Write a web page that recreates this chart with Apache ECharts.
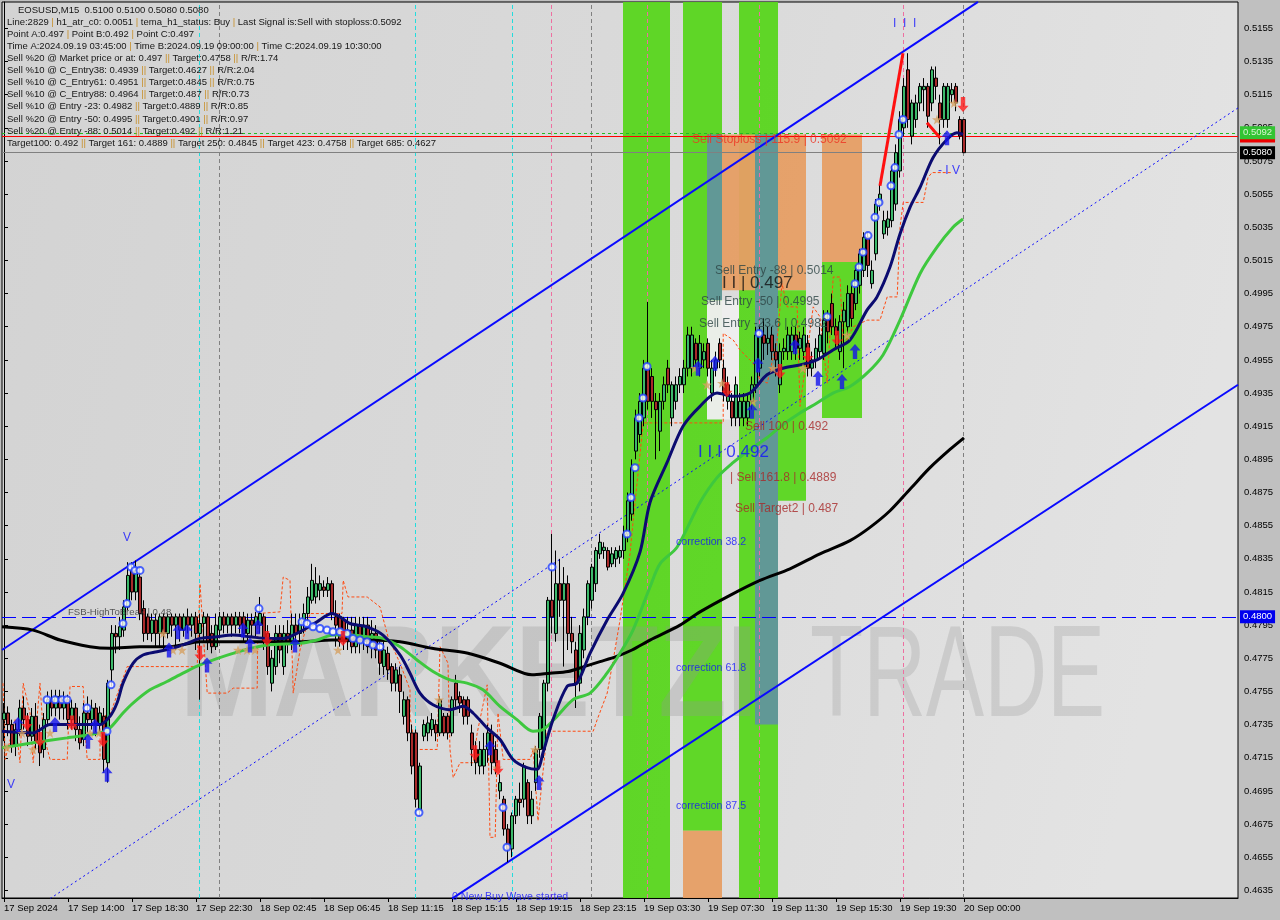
<!DOCTYPE html>
<html><head><meta charset="utf-8">
<script src="https://cdn.jsdelivr.net/npm/echarts@6/dist/echarts.min.js"></script>
<style>html,body{margin:0;padding:0;background:#c0c0c0}#c{width:1280px;height:920px}</style>
</head><body><div id="c"></div>
<script>
// ---------------- DATA ----------------
const timeLabels = ['17 Sep 2024','17 Sep 14:00','17 Sep 18:30','17 Sep 22:30','18 Sep 02:45','18 Sep 06:45','18 Sep 11:15','18 Sep 15:15','18 Sep 19:15','18 Sep 23:15','19 Sep 03:30','19 Sep 07:30','19 Sep 11:30','19 Sep 15:30','19 Sep 19:30','20 Sep 00:00'];
const yTickLabels = ['0.4635','0.4655','0.4675','0.4695','0.4715','0.4735','0.4755','0.4775','0.4795','0.4815','0.4835','0.4855','0.4875','0.4895','0.4915','0.4935','0.4955','0.4975','0.4995','0.5015','0.5035','0.5055','0.5075','0.5095','0.5115','0.5135','0.5155'];

// candles: [open, close, low, high] in 1e-4 price units
const candles17 = [
[4738,4742,4725,4748],[4742,4735,4728,4746],[4735,4722,4718,4738],[4722,4732,4716,4736],[4732,4745,4728,4750],
[4745,4738,4732,4752],[4738,4728,4722,4742],[4728,4740,4725,4745],[4740,4725,4720,4748],[4725,4718,4710,4735],
[4720,4738,4715,4742],[4738,4750,4735,4755],[4750,4745,4740,4756],[4745,4752,4740,4756],[4752,4745,4738,4756],
[4745,4750,4738,4755],[4750,4738,4732,4753],[4738,4745,4732,4750],[4745,4732,4725,4748],[4732,4724,4720,4740],
[4726,4742,4722,4748],[4742,4738,4730,4752],[4738,4745,4732,4750],[4745,4735,4728,4748],[4735,4742,4730,4746],
[4740,4714,4706,4745],[4712,4760,4700,4762],[4768,4790,4758,4795],[4790,4788,4778,4795],[4788,4794,4780,4800],
[4792,4806,4788,4810],[4806,4825,4804,4833],[4828,4815,4810,4833],[4815,4828,4810,4834],[4824,4802,4798,4830],
[4805,4790,4785,4810],[4800,4790,4786,4802],[4790,4798,4785,4802],[4798,4790,4782,4802],[4790,4800,4782,4802],
[4800,4790,4780,4802],[4790,4800,4787,4802],[4800,4795,4788,4802],[4795,4800,4780,4802],[4800,4792,4785,4802],
[4792,4800,4788,4802],[4800,4795,4790,4805],[4795,4800,4788,4802],[4800,4790,4780,4803],[4790,4796,4750,4802],
[4796,4800,4785,4803],[4800,4785,4780,4802],[4790,4782,4778,4795],[4782,4795,4780,4802],[4792,4800,4788,4803],
[4800,4795,4790,4803],[4795,4800,4790,4802],[4800,4795,4788,4802],[4795,4800,4790,4803],[4800,4795,4790,4803]
];
const candles18a = [
[4800,4790,4785,4803],[4790,4798,4785,4802],[4798,4795,4788,4802],[4795,4800,4788,4803],[4795,4802,4790,4812],
[4800,4785,4780,4802],[4790,4770,4765,4795],[4760,4775,4755,4780],[4770,4790,4765,4795],[4790,4780,4772,4795],
[4770,4790,4765,4795],[4790,4785,4778,4798],[4785,4795,4780,4802],[4795,4790,4785,4802],[4790,4798,4782,4802],
[4798,4802,4790,4808],[4802,4812,4795,4818],[4810,4822,4808,4832],[4812,4820,4808,4830],[4816,4820,4810,4825],
[4818,4816,4812,4822],[4816,4820,4812,4824],[4820,4802,4798,4822],[4800,4795,4782,4810],[4800,4785,4782,4802],
[4798,4785,4780,4800],[4785,4792,4780,4800],[4792,4782,4778,4800],[4782,4795,4778,4800],[4795,4785,4778,4800],
[4785,4795,4780,4800],[4795,4782,4778,4800],[4782,4790,4775,4798],[4790,4780,4775,4795],[4780,4772,4765,4785],
[4770,4780,4765,4785],[4778,4768,4762,4782],[4770,4760,4755,4772],[4760,4768,4755,4772],[4765,4755,4742,4770],
[4740,4750,4735,4755],[4750,4730,4725,4752],[4730,4710,4705,4735],[4730,4690,4685,4732],[4683,4710,4680,4712],
[4728,4735,4725,4738],[4730,4736,4725,4740],[4732,4738,4728,4742],[4735,4730,4725,4738],[4730,4750,4728,4752],
[4740,4730,4728,4742],[4740,4730,4726,4742],[4730,4750,4728,4752],[4760,4750,4745,4765],[4752,4748,4742,4755],
[4750,4740,4735,4752],[4750,4740,4735,4752],[4730,4720,4710,4735],[4720,4712,4705,4725],[4710,4720,4705,4725]
];
const candles18b = [
[4710,4720,4705,4730],[4720,4730,4712,4735],[4730,4712,4705,4735],[4720,4712,4705,4725],[4695,4700,4690,4705],
[4690,4672,4668,4692],[4672,4660,4652,4675],[4660,4680,4655,4682],[4680,4690,4675,4692],[4690,4688,4680,4700],
[4690,4710,4685,4712],[4700,4680,4675,4702],[4680,4690,4675,4695],[4700,4720,4695,4722],[4720,4740,4715,4742],
[4720,4760,4715,4762],[4760,4810,4755,4812],[4810,4800,4790,4850],[4790,4820,4785,4840],[4820,4810,4800,4835],
[4810,4820,4770,4830],[4820,4790,4780,4825],[4790,4785,4778,4800],[4780,4760,4745,4785],[4760,4790,4755,4795],
[4780,4800,4775,4805],[4800,4820,4795,4822],[4810,4830,4805,4832],[4820,4840,4815,4842],[4838,4845,4835,4850],
[4840,4842,4835,4845],[4840,4830,4828,4842],[4832,4838,4830,4842],[4835,4840,4830,4842],[4836,4840,4832,4843],
[4840,4850,4835,4855],[4850,4870,4845,4875],[4862,4890,4858,4895],[4900,4920,4895,4925],[4910,4930,4905,4935],
[4920,4950,4915,4955],[4950,4930,4925,4990],[4945,4930,4920,4950],[4930,4925,4895,4935],[4912,4930,4900,4935],
[4930,4940,4925,4945],[4950,4940,4935,4955],[4920,4940,4915,4942],[4930,4940,4925,4945],[4940,4945,4935,4950],
[4940,4950,4935,4955],[4950,4970,4945,4975],[4950,4970,4945,4975],[4965,4955,4950,4968],[4950,4965,4945,4970],
[4955,4960,4950,4965],[4965,4950,4945,4968],[4935,4950,4930,4955],[4950,4955,4945,4960],[4965,4955,4950,4968]
];
const candles19 = [
[4950,4935,4930,4955],[4930,4940,4925,4945],[4930,4920,4915,4935],[4920,4940,4915,4945],[4920,4930,4915,4935],
[4920,4930,4915,4935],[4920,4930,4915,4935],[4930,4940,4925,4945],[4940,4970,4935,4975],[4950,4970,4945,4975],
[4970,4965,4955,4980],[4965,4968,4958,4975],[4970,4960,4955,4975],[4960,4955,4945,4965],[4940,4960,4935,4965],
[4960,4962,4955,4968],[4960,4970,4955,4975],[4960,4970,4955,4975],[4970,4962,4955,4975],[4962,4968,4955,4972],
[4960,4970,4955,4975],[4965,4950,4945,4970],[4950,4955,4945,4960],[4955,4962,4950,4968],[4960,4970,4955,4975],
[4959,4979,4955,4985],[4979,4972,4965,4985],[4989,4975,4970,4995],[4975,4970,4962,4980],[4960,4978,4955,4982],
[4978,4985,4950,4990],[4975,4995,4970,5000],[4995,4980,4975,5000],[4989,5009,4985,5012],[5000,5019,4995,5022],
[5009,5029,5005,5032],[5029,5012,5005,5032],[5001,5009,4998,5015],[5019,5049,5015,5052],[5049,5055,5045,5062],
[5031,5039,5028,5045],[5035,5040,5030,5045],[5039,5069,5035,5072],[5049,5080,5045,5085],[5069,5100,5065,5105],
[5095,5120,5090,5125],[5130,5100,5095,5140],[5090,5110,5085,5112],[5100,5110,5095,5115],[5110,5120,5105,5122],
[5118,5120,5105,5125],[5120,5102,5095,5122],[5110,5130,5105,5132],[5125,5120,5112,5132],[5110,5100,5085,5115],
[5100,5120,5095,5122],[5100,5120,5095,5122],[5115,5118,5110,5122],[5120,5110,5105,5122],[5100,5090,5088,5102],
[5100,5080,5080,5100]
];

// indicator lines: [bar index, price*1e4]
const blackMA = [[-0.5,4794],[7.25,4792],[14,4786],[21.5,4782],[26.5,4781],[34,4782],[41.5,4782],[49,4785],[61.5,4785],[74,4785],[82,4786],[91,4786],[99,4785],[107,4781],[116,4778],[124,4772],[132,4765],[136.5,4766],[141,4767],[145,4770],[149,4773],[153,4776],[157,4780],[161.5,4786],[169,4795],[174,4803],[181.5,4813],[189,4822],[196.5,4829],[204,4838],[211.5,4846],[216.5,4854],[221.5,4864],[226.5,4877],[231.5,4890],[236.5,4901],[240,4908]];
const navyLine = [[-0.5,4731],[7.25,4730],[11.5,4735],[15.75,4735],[19.75,4735],[24,4735],[26.5,4740],[28.25,4748],[29.75,4760],[32.25,4772],[34.75,4777],[38.25,4779],[42.25,4781],[45.75,4784],[49,4787],[53.25,4788],[57.25,4789],[61.5,4788],[65.75,4787],[69.75,4787],[74,4791],[78.25,4797],[82,4802],[84,4800],[86.5,4796],[90.75,4794],[94.75,4789],[99,4777],[101.5,4766],[104,4754],[107.25,4747],[111.5,4744],[114.75,4746],[117.25,4742],[120.75,4733],[124,4726],[127.25,4714],[130.75,4709],[133.25,4708],[134.75,4718],[137.25,4738],[140.75,4758],[143.25,4760],[146.5,4778],[150.75,4798],[154.75,4814],[159,4839],[161.5,4869],[165.75,4893],[169.75,4915],[174,4927],[178.25,4935],[182.25,4933],[186.5,4935],[190.75,4946],[194.75,4950],[199,4952],[203.25,4955],[207.25,4961],[211.5,4967],[215.75,4985],[218.25,4993],[221.5,5011],[224,5031],[226.5,5047],[229,5059],[232.25,5077],[235.75,5088],[238.25,5092],[239.75,5091]];
const greenMA = [[-0.5,4721],[7.25,4724],[15.75,4727],[24,4730],[26.5,4733],[29.75,4742],[32.25,4748],[36.5,4756],[40.75,4761],[44.75,4766],[49,4771],[57.25,4778],[65.75,4783],[74,4784],[78.25,4786],[82.25,4789],[86.5,4789],[90.75,4788],[94.75,4787],[99,4782],[103.25,4774],[107.25,4767],[111.5,4762],[115.75,4760],[119.75,4756],[124,4746],[128.25,4738],[132.25,4731],[134.75,4732],[138.25,4740],[142.25,4750],[146.5,4754],[150.75,4766],[154,4778],[157.25,4792],[161.5,4818],[164,4832],[168.25,4842],[174,4869],[178.25,4884],[182.25,4893],[186.5,4901],[190.75,4908],[194.75,4916],[199,4923],[203.25,4929],[207.25,4935],[211.5,4939],[215.75,4947],[219.75,4958],[224,4979],[229,5007],[233.25,5023],[237.25,5035],[239.75,5040]];
const orangeStop = [[-0.25,4760],[0.3,4714],[2.8,4738],[4,4712],[4.8,4760],[6.5,4742],[7.3,4712],[9,4760],[9.8,4730],[11.5,4714],[15.8,4714],[16.5,4758],[19.8,4758],[20.3,4730],[20.8,4714],[24,4714],[24,4740],[26.5,4741],[30.8,4770],[48.3,4770],[49,4820],[50.8,4754],[55.8,4754],[57.3,4757],[63.3,4757],[63.5,4802],[69,4803],[69.8,4824],[71.5,4822],[72.3,4754],[74,4780],[76.5,4802],[84.5,4802],[84.8,4822],[86,4812],[90.8,4812],[94,4806],[96,4788],[99,4772],[101.5,4756],[101.5,4740],[102.8,4720],[108.3,4720],[109,4782],[111,4772],[111.5,4720],[112.3,4703],[114,4712],[117.3,4712],[118.3,4730],[120.8,4759],[121.5,4667],[122.8,4667],[123.5,4742],[124.8,4714],[131.5,4714],[132.3,4720],[133.5,4677],[135.8,4731],[147.3,4731],[148.3,4738],[150.8,4754],[152.3,4774],[154,4798],[156.5,4838],[157.3,4858],[159.8,4917],[179.8,4917],[179.8,4971],[182.3,4967],[184,4961],[187.3,4953],[189,4943],[190.8,4941],[193.3,4967],[194.5,5001],[195.8,4987],[198.3,4987],[199,4927],[202.3,4987],[204,4981],[205.8,4941],[207.3,5005],[209,5005],[209.8,4963],[212.3,4975],[215.8,4979],[219,4979],[220.8,4993],[223.3,4993],[224,5035],[224.8,5050],[229.8,5050],[231,5065],[232,5068],[237,5068]];
const channelUpper = [[-0.5,4780],[243.5,5171]];
const channelLower = [[112,4630],[308.5,4940]];
const channelMid = [[11.5,4630],[308.5,5107]];
const zigzagUp = [[219,5060],[224.75,5140]];
const zigzagDown = [[230.75,5098],[234,5089]];

// horizontal levels (price) and vertical markers (bar index)
const stopLossRed = 0.5090, stopLossGreen = 0.5092, lastPrice = 0.5080, breakLevel = 0.4800;
const vCyan = [48.75, 102.75, 127];
const vGrey = [53.75, 146.75, 239.75];
const vPink = [136.75, 160.75, 188.75, 224.75];

// zones: [fromBar, toBar, lowPrice, highPrice, kind]
const zones = [
 [154.75,166.5,4630,5171,'g'],
 [169.75,179.5,4671,5171,'g'],
 [169.75,179.5,4630,4671,'o'],
 [183.75,193.5,4630,5171,'g'],
 [179.5,183.75,4997,5091,'o'],
 [183.75,187.75,4997,5091,'o'],
 [175.75,179.5,4991,5091,'s'],
 [175.75,183.75,4919,4991,'w'],
 [187.75,193.5,4735,5091,'s'],
 [193.5,200.5,4997,5091,'o'],
 [193.5,200.5,4870,4997,'g'],
 [204.5,214.5,5014,5091,'o'],
 [204.5,214.5,4920,5014,'g']
];

// signal markers: [bar index, price*1e4]
const buyArrows = [[3.5,4735],[12.75,4735],[21,4725],[22.75,4734],[25.75,4705],[41.25,4780],[43.5,4791],[45.75,4791],[50.75,4771],[59.75,4792],[61.5,4783],[63.5,4794],[72.75,4783],[121.5,4721],[133.75,4700],[173.5,4950],[177.75,4953],[187,4924],[188.5,4952],[197.75,4963],[203.5,4944],[209.5,4942],[212.75,4960],[235.75,5089]];
const sellArrows = [[5.75,4736],[9,4726],[17,4736],[24.75,4726],[49,4778],[65.75,4787],[84.75,4787],[117.75,4718],[123.5,4709],[180.75,4937],[194,4948],[201,4958],[208.25,4968],[239.75,5109]];
const stars = [[0.75,4721],[4.5,4730],[7.25,4720],[11.5,4730],[21.5,4730],[23.75,4730],[39.75,4790],[42.25,4780],[44.5,4780],[58.5,4780],[60.75,4780],[62.75,4780],[83.5,4780],[108.75,4750],[123.25,4709],[132.75,4720],[172.75,4950],[175.75,4940],[179.5,4941],[187.25,4930],[192.25,4950],[199.75,4950],[210.75,4970],[233.25,5100],[237.5,5110]];
const circles = [[10.75,4750],[12.75,4750],[14.5,4750],[15.75,4750],[20.75,4745],[25.75,4731],[26.75,4759],[29.75,4796],[30.75,4808],[31.75,4830],[32.75,4828],[34,4828],[63.75,4805],[74.5,4797],[75.75,4796],[77.25,4794],[79,4793],[80.75,4792],[82.25,4791],[84,4791],[85.75,4790],[87.25,4787],[89,4786],[90.75,4785],[92.25,4783],[94,4782],[103.75,4682],[124.75,4685],[125.75,4661],[137,4830],[155.75,4850],[156.75,4872],[157.75,4890],[158.75,4920],[159.75,4932],[160.75,4951],[188.75,4971],[205.75,4981],[212.75,5001],[213.75,5011],[214.75,5020],[216,5030],[217.75,5041],[218.75,5050],[221.75,5060],[222.75,5071],[223.75,5091],[224.75,5100]];

// chart annotations: [bar index, price*1e4, text, kind]
const annotations = [
 [16,4803,'FSB-HighToBreak | 0.48','fsb'],
 [172,5088,'Sell Stoploss | 115.9 | 0.5092','stop'],
 [177.75,5009,'Sell Entry -88 | 0.5014','entry'],
 [179.5,5001,'I I | 0.497','big'],
 [174.25,4990,'Sell Entry -50 | 0.4995','entry'],
 [173.75,4977,'Sell Entry -23.6 | 0.4982','entry'],
 [185.25,4915,'Sell 100 | 0.492','target'],
 [173.5,4899,'I I I 0.492','bigblue'],
 [181.5,4884,'| Sell 161.8 | 0.4889','target'],
 [182.75,4865,'Sell Target2 | 0.487','target'],
 [168,4845,'correction 38.2','corr'],
 [168,4769,'correction 61.8','corr'],
 [168,4686,'correction 87.5','corr'],
 [112,4631,'0 New Buy Wave started','corr'],
 [29.75,4848,'V','mark'],
 [0.75,4699,'V','mark'],
 [222.25,5158,'I  I  I','mark'],
 [233.5,5069,'- I V','mark']
];

// header text block
const infoLines = [
 'EOSUSD,M15  0.5100 0.5100 0.5080 0.5080',
 'Line:2829 | h1_atr_c0: 0.0051 | tema_h1_status: Buy | Last Signal is:Sell with stoploss:0.5092',
 'Point A:0.497 | Point B:0.492 | Point C:0.497',
 'Time A:2024.09.19 03:45:00 | Time B:2024.09.19 09:00:00 | Time C:2024.09.19 10:30:00',
 'Sell %20 @ Market price or at: 0.497 || Target:0.4758 || R/R:1.74',
 'Sell %10 @ C_Entry38: 0.4939 || Target:0.4627 || R/R:2.04',
 'Sell %10 @ C_Entry61: 0.4951 || Target:0.4845 || R/R:0.75',
 'Sell %10 @ C_Entry88: 0.4964 || Target:0.487 || R/R:0.73',
 'Sell %10 @ Entry -23: 0.4982 || Target:0.4889 || R/R:0.85',
 'Sell %20 @ Entry -50: 0.4995 || Target:0.4901 || R/R:0.97',
 'Sell %20 @ Entry -88: 0.5014 || Target:0.492 || R/R:1.21',
 'Target100: 0.492 || Target 161: 0.4889 || Target 250: 0.4845 || Target 423: 0.4758 || Target 685: 0.4627'
];

// ---------------- BUILD ----------------
const FONT = '"Liberation Sans", Arial, sans-serif';
const P = v => v / 1e4;
const pts = arr => arr.map(p => [p[0], P(p[1])]);
const allCandles = [].concat(candles17, candles18a, candles18b, candles19);
const candleData = allCandles.map((c, i) => [i, P(c[0]), P(c[1]), P(c[2]), P(c[3])]);
const yTicks = yTickLabels.map(Number);
const xTicks = timeLabels.map((t, k) => k * 16);
const Y_MIN = 0.46304, Y_MAX = 0.51709;

const zoneColors = { g: 'rgba(88,214,30,0.95)', o: 'rgba(230,158,100,0.95)', s: 'rgba(98,146,160,0.92)', w: 'rgba(238,238,238,0.97)' };
const annStyles = {
  fsb: { color: '#333', fontSize: 9.6 },
  stop: { color: '#ee3322', fontSize: 12 },
  entry: { color: '#2d4545', fontSize: 12 },
  big: { color: '#111', fontSize: 17 },
  target: { color: '#a82828', fontSize: 12 },
  bigblue: { color: '#1010ff', fontSize: 17 },
  corr: { color: '#1010ff', fontSize: 10.6 },
  mark: { color: '#1010ff', fontSize: 12 }
};

const upArrow = 'path://M5,0 L10,6 L7,6 L7,14 L3,14 L3,6 L0,6 Z';
const starPath = 'path://M5,0 L6.2,3.6 L10,3.6 L7,5.9 L8.1,9.5 L5,7.3 L1.9,9.5 L3,5.9 L0,3.6 L3.8,3.6 Z';

const chart = echarts.init(document.getElementById('c'), null, { renderer: 'canvas', width: 1280, height: 920 });

const infoGraphics = infoLines.map((t, k) => ({
  type: 'text',
  x: k === 0 ? 18 : 7,
  y: 10 + k * 12.1,
  z: 50,
  style: {
    text: t.replace(/\|/g, '{s||}'),
    font: '9.5px ' + FONT,
    fill: '#151515',
    verticalAlign: 'middle',
    rich: { s: { fill: '#c8902a', font: '9.5px ' + FONT } }
  }
}));

const levelLabel = (txt, bg, fg) => ({ show: true, position: 'end', formatter: txt, backgroundColor: bg, color: fg, padding: [2, 3, 1, 3], fontSize: 9.5, distance: 2 });

const option = {
  animation: false,
  backgroundColor: '#c0c0c0',
  textStyle: { fontFamily: FONT },
  grid: {
    left: 2, right: 42, top: 2, bottom: 22, show: true,
    borderColor: '#000', borderWidth: 1,
    backgroundColor: { type: 'linear', x: 0, y: 0, x2: 1, y2: 0.3, colorStops: [
      { offset: 0, color: '#d3d3d3' }, { offset: 0.55, color: '#dadada' }, { offset: 1, color: '#e3e3e3' }] }
  },
  xAxis: {
    type: 'value', min: -0.5, max: 308.5,
    splitLine: { show: false },
    axisLine: { show: true, lineStyle: { color: '#000' } },
    axisTick: { show: true, customValues: xTicks, length: 4, lineStyle: { color: '#000' } },
    axisLabel: { customValues: xTicks, formatter: v => timeLabels[Math.round(v / 16)], align: 'left', color: '#000', fontSize: 9.5, margin: 5, fontFamily: FONT }
  },
  yAxis: {
    type: 'value', position: 'right', min: Y_MIN, max: Y_MAX, scale: true,
    splitLine: { show: false },
    axisLine: { show: true, lineStyle: { color: '#000' } },
    axisTick: { show: true, customValues: yTicks, length: 4, lineStyle: { color: '#000' } },
    axisLabel: { customValues: yTicks, formatter: v => v.toFixed(4), color: '#000', fontSize: 9.5, margin: 6, fontFamily: FONT }
  },
  graphic: [
    { type: 'text', x: 180, y: 680, z: 1, scaleX: 0.86, style: { text: 'MARKETZI', font: 'bold 130px ' + FONT, fill: 'rgba(150,150,150,0.30)', verticalAlign: 'middle' } },
    { type: 'text', x: 810, y: 680, z: 1, scaleX: 0.67, style: { text: 'TRADE', font: '130px ' + FONT, fill: 'rgba(150,150,150,0.28)', verticalAlign: 'middle' } }
  ].concat(infoGraphics),
  series: [
    {
      name: 'zones', type: 'line', data: [], silent: true,
      markArea: { silent: true, z: 0.5, data: zones.map(z => [
        { xAxis: z[0], yAxis: Math.min(Math.max(P(z[2]), Y_MIN), Y_MAX), itemStyle: { color: zoneColors[z[4]] } },
        { xAxis: z[1], yAxis: Math.min(Math.max(P(z[3]), Y_MIN), Y_MAX) }]) },
      markLine: {
        silent: true, symbol: 'none', z: 1, precision: 8,
        label: { show: false },
        data: [].concat(
          vCyan.map(v => ({ xAxis: v, lineStyle: { color: '#22dddd', type: [4, 3], width: 1 } })),
          vGrey.map(v => ({ xAxis: v, lineStyle: { color: '#808080', type: [4, 3], width: 1 } })),
          vPink.map(v => ({ xAxis: v, lineStyle: { color: '#ee6fa0', type: [4, 3], width: 1 } })),
          [
            { yAxis: lastPrice, lineStyle: { color: '#808080', type: 'solid', width: 1 }, label: levelLabel('0.5080', '#000', '#fff') },
            { yAxis: breakLevel, lineStyle: { color: '#0000ff', type: [14, 6], width: 1 }, label: levelLabel('0.4800', '#0000ee', '#fff') },
            { yAxis: stopLossRed, lineStyle: { color: '#ff0000', type: 'solid', width: 1 }, label: levelLabel('0.5090', '#ee0000', '#fff') },
            { yAxis: stopLossGreen, lineStyle: { color: '#22bb22', type: [3, 3], width: 1 }, label: levelLabel('0.5092', '#33c433', '#d8f5d0') }
          ])
      }
    },
    { name: 'channelUpper', type: 'line', data: pts(channelUpper), symbol: 'none', z: 2, lineStyle: { color: '#0a0aff', width: 2 } },
    { name: 'channelLower', type: 'line', data: pts(channelLower), symbol: 'none', z: 2, lineStyle: { color: '#0a0aff', width: 2 } },
    { name: 'channelMid', type: 'line', data: pts(channelMid), symbol: 'none', z: 2, lineStyle: { color: '#0a0aff', width: 1, type: [2, 3] } },
    { name: 'orange', type: 'line', data: pts(orangeStop), symbol: 'none', z: 3, lineStyle: { color: '#ff4a10', width: 1, type: [3, 2] } },
    {
      name: 'candles', type: 'candlestick', data: candleData, encode: { x: 0, y: [1, 2, 3, 4] }, z: 4,
      barWidth: 3, silent: true,
      itemStyle: { color: '#3cb86a', color0: '#a82a2a', borderColor: '#000', borderColor0: '#000', borderWidth: 1 }
    },
    { name: 'black', type: 'line', data: pts(blackMA), symbol: 'none', smooth: 0.3, z: 5, lineStyle: { color: '#000', width: 3 } },
    { name: 'green', type: 'line', data: pts(greenMA), symbol: 'none', smooth: 0.3, z: 5, lineStyle: { color: '#3ec83e', width: 3 } },
    { name: 'navy', type: 'line', data: pts(navyLine), symbol: 'none', smooth: 0.3, z: 6, lineStyle: { color: '#0b0b70', width: 3 } },
    { name: 'zigUp', type: 'line', data: pts(zigzagUp), symbol: 'none', z: 6, lineStyle: { color: '#ff1010', width: 3 } },
    { name: 'zigDown', type: 'line', data: pts(zigzagDown), symbol: 'none', z: 6, lineStyle: { color: '#ff1010', width: 3 } },
    { name: 'circles', type: 'scatter', data: pts(circles), symbol: 'emptyCircle', symbolSize: 7, z: 7, itemStyle: { color: '#2040ff', borderColor: '#2040ff', borderWidth: 1 } },
    { name: 'stars', type: 'scatter', data: pts(stars), symbol: starPath, symbolSize: 10, z: 7, itemStyle: { color: '#d6a060' } },
    { name: 'buy', type: 'scatter', data: pts(buyArrows), symbol: upArrow, symbolSize: [11, 15], z: 8, itemStyle: { color: '#1414ee' } },
    { name: 'sell', type: 'scatter', data: pts(sellArrows), symbol: upArrow, symbolRotate: 180, symbolSize: [11, 15], z: 8, itemStyle: { color: '#ff1a1a' } },
    {
      name: 'labels', type: 'scatter', symbolSize: 0, z: 9, silent: true,
      data: annotations.map(a => ({ value: [a[0], P(a[1])], label: Object.assign({ show: true, position: 'right', distance: 0, formatter: a[2], fontFamily: FONT }, annStyles[a[3]]) }))
    }
  ]
};
chart.setOption(option);
</script>
</body></html>
